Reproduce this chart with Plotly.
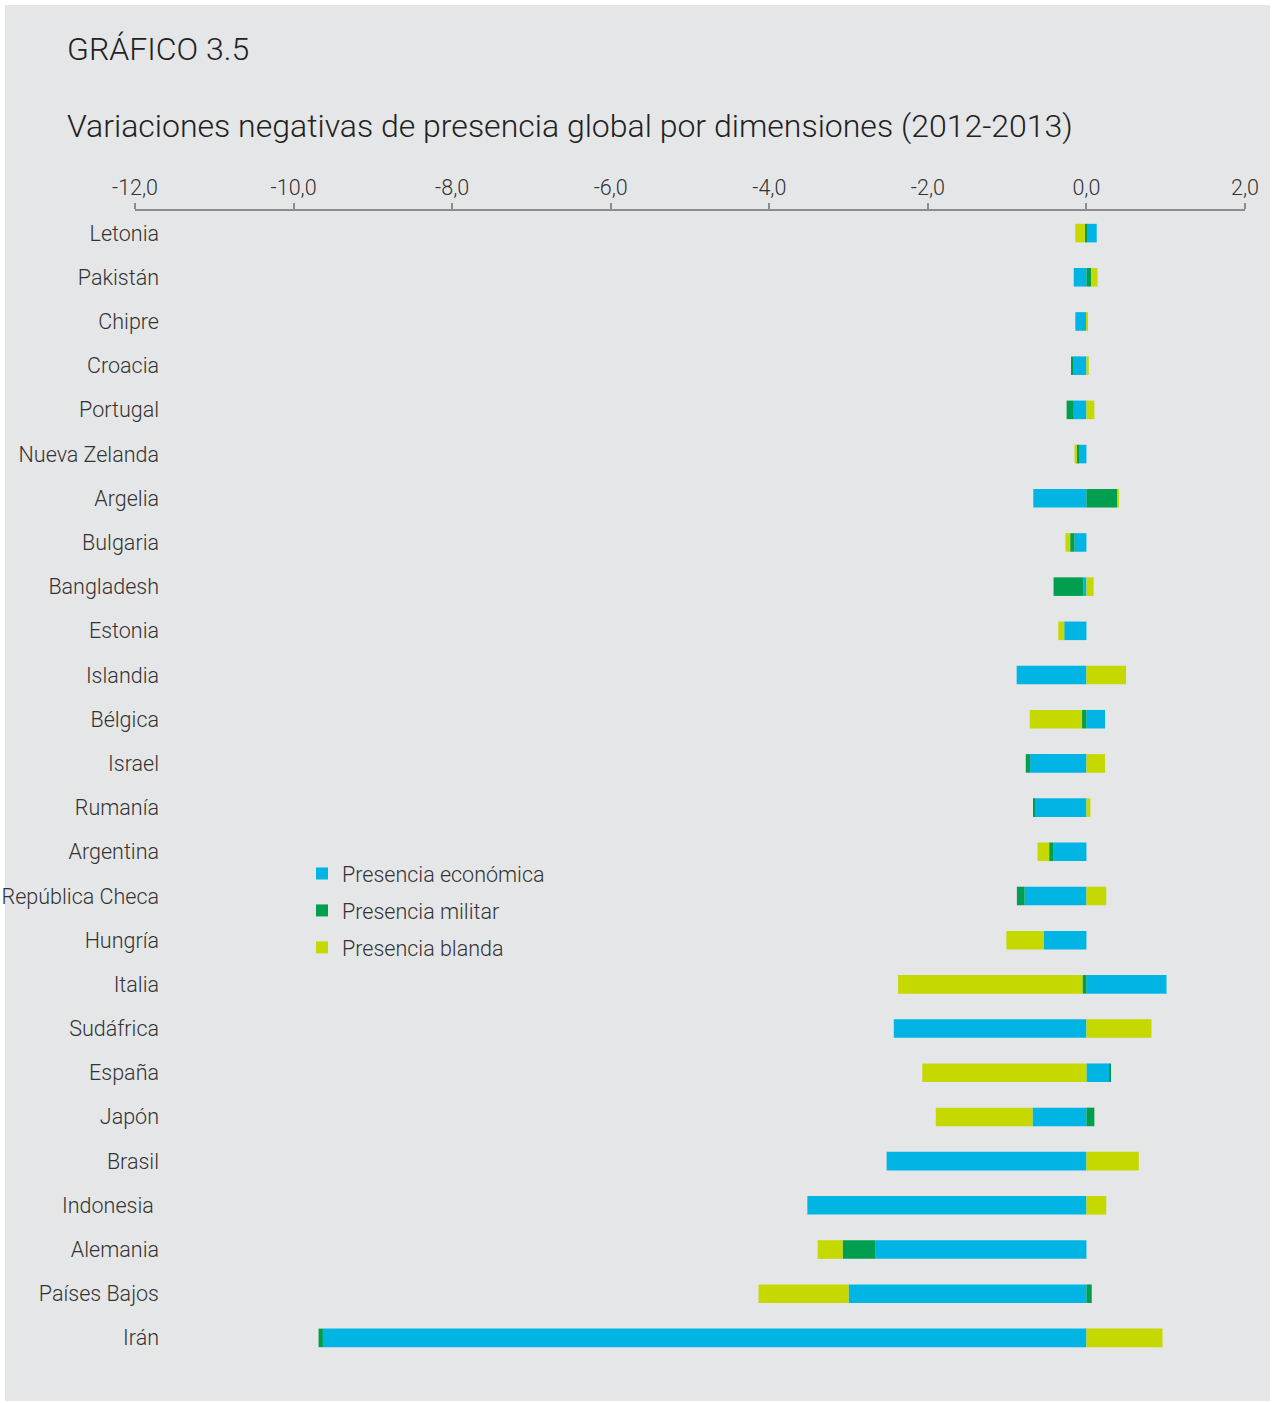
import plotly.graph_objects as go

countries = ["Letonia", "Pakistán", "Chipre", "Croacia", "Portugal", "Nueva Zelanda",
             "Argelia", "Bulgaria", "Bangladesh", "Estonia", "Islandia", "Bélgica",
             "Israel", "Rumanía", "Argentina", "República Checa", "Hungría", "Italia",
             "Sudáfrica", "España", "Japón", "Brasil", "Indonesia\u00a0", "Alemania",
             "Países Bajos", "Irán"]

economica = [0.13, -0.16, -0.14, -0.17, -0.16, -0.105, -0.67, -0.15, -0.04, -0.28,
             -0.88, 0.235, -0.71, -0.656, -0.42, -0.78, -0.54, 1.01, -2.43, 0.29,
             -0.68, -2.52, -3.52, -2.665, -3.0, -9.63]
militar = [-0.02, 0.06, 0.0, -0.02, -0.09, -0.025, 0.39, -0.055, -0.375, 0.0,
           0.0, -0.055, -0.055, -0.017, -0.05, -0.097, 0.0, -0.05, 0.0, 0.017,
           0.1, 0.0, 0.0, -0.41, 0.067, -0.055]
blanda = [-0.12, 0.08, 0.01, 0.03, 0.1, -0.02, 0.02, -0.06, 0.09, -0.075,
          0.5, -0.66, 0.235, 0.05, -0.147, 0.25, -0.47, -2.325, 0.82, -2.07,
          -1.22, 0.66, 0.25, -0.315, -1.135, 0.96]

series_names = ["Presencia económica", "Presencia militar", "Presencia blanda"]
x_ticks = [-12, -10, -8, -6, -4, -2, 0, 2]
x_ticktext = [f"{v:.1f}".replace(".", ",") for v in x_ticks]

COLORS = ["#00B4E4", "#009E4F", "#C5D800"]
BG = "#E5E6E8"
AXIS = "#8C8C8C"
FONT = "Roboto"
TXT = "#333333"
FS = 21.5

W, H = 1272, 1403
ML, MR, MT, MB = 135, 27, 211, 43
PW, PH = W - ML - MR, H - MT - MB


def px_x(px):
    return (px - ML) / PW


def px_y(py):
    return (H - MB - py) / PH


fig = go.Figure()
for name, vals, col in zip(series_names, [economica, militar, blanda], COLORS):
    fig.add_trace(go.Bar(
        y=countries, x=vals, orientation="h", name=name,
        marker=dict(color=col, line=dict(width=0)),
        legendgroup=name,
    ))

n = len(countries)
xmin, xmax = x_ticks[0], x_ticks[-1]

fig.update_layout(
    width=W, height=H,
    margin=dict(l=ML, r=MR, t=MT, b=MB, pad=0, autoexpand=False),
    paper_bgcolor="white",
    plot_bgcolor=BG,
    barmode="relative",
    bargap=0.58,
    separators=",.",
    font=dict(family=FONT, size=FS, color=TXT, weight=300),
    showlegend=True,
    legend=dict(
        x=px_x(302), y=px_y(853), xanchor="left", yanchor="top",
        bgcolor="rgba(0,0,0,0)", traceorder="grouped", tracegroupgap=6,
        font=dict(family=FONT, size=FS, color=TXT, weight=300),
    ),
    xaxis=dict(
        side="top", range=[xmin, xmax], autorange=False, automargin=False,
        tickmode="array", tickvals=x_ticks, ticktext=x_ticktext,
        showline=True, linecolor=AXIS, linewidth=1.5,
        ticks="outside", ticklen=6, tickcolor=AXIS, tickwidth=1.5,
        showgrid=False, zeroline=False,
        tickfont=dict(family=FONT, size=FS, color=TXT, weight=300),
        fixedrange=True,
    ),
    yaxis=dict(
        type="category", categoryorder="array", categoryarray=countries,
        range=[n - 0.5, -0.5], autorange=False, automargin=False,
        anchor="free", position=px_x(159),
        showline=False, showgrid=False, zeroline=False, ticks="",
        tickfont=dict(family=FONT, size=FS, color=TXT, weight=300),
    ),
    yaxis2=dict(
        overlaying="y", anchor="free", position=(0 - xmin) / (xmax - xmin),
        side="left", range=[n - 0.5, -0.5], autorange=False, automargin=False,
        tickmode="array", tickvals=[i - 0.5 for i in range(n + 1)],
        showticklabels=False, ticks="outside", ticklen=5, tickwidth=1.5,
        tickcolor=AXIS, showline=True, linecolor=AXIS, linewidth=2,
        showgrid=False, zeroline=False,
    ),
)

# grey background frame
fig.add_shape(type="rect", xref="paper", yref="paper",
              x0=px_x(5), x1=px_x(1270), y0=px_y(1401), y1=px_y(5),
              fillcolor=BG, line=dict(width=0), layer="below")

fig.add_annotation(text="GRÁFICO 3.5", xref="paper", yref="paper",
                   x=px_x(65), y=px_y(49), xanchor="left", yanchor="middle",
                   showarrow=False,
                   font=dict(family=FONT, size=32, color="#222222", weight=300))
fig.add_annotation(text="Variaciones negativas de presencia global por dimensiones (2012-2013)",
                   xref="paper", yref="paper",
                   x=px_x(65), y=px_y(126), xanchor="left", yanchor="middle",
                   showarrow=False,
                   font=dict(family=FONT, size=32, color="#222222", weight=300))

fig.write_html("out.html", config={"displayModeBar": False},
               post_script="document.body.style.margin='0px';")
